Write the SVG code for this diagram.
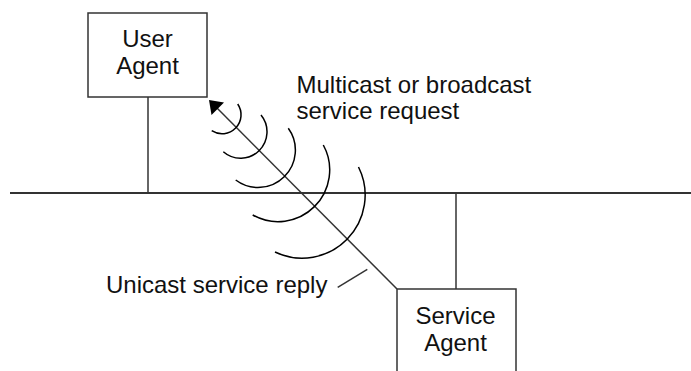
<svg xmlns="http://www.w3.org/2000/svg" width="691" height="371" viewBox="0 0 691 371">
<style>
.box{fill:#fff;stroke:#333;stroke-width:1.5}
.ln{fill:none;stroke:#333;stroke-width:1.5}
.bus{fill:none;stroke:#333;stroke-width:2}
.arc{fill:none;stroke:#000;stroke-width:1.5}
.t{font-family:"Liberation Sans",Arial,sans-serif;font-size:24px;fill:#111}
.c{text-anchor:middle}
</style>
<rect width="691" height="371" fill="#fff"/>
<g id="connectors">
<line class="bus" x1="10" y1="193" x2="691" y2="193"/>
<line class="ln" x1="148" y1="97" x2="148" y2="193"/>
<line class="ln" x1="456" y1="193" x2="456" y2="289"/>
<line class="ln" x1="397" y1="289" x2="216" y2="107"/>
<polygon points="209,100 224,102.5 211.5,115" fill="#000"/>
<path class="arc" d="M237.7,104 A19,19 0 0 1 211.7,130.7"/>
<path class="arc" d="M261,115 A26.4,26.4 0 0 1 223.3,151.7"/>
<path class="arc" d="M288.3,128.3 A37.3,37.3 0 0 1 235.7,180"/>
<path class="arc" d="M323.3,145 A51.7,51.7 0 0 1 252.7,215"/>
<path class="arc" d="M358.5,167 A63,63 0 0 1 275,252"/>
<line class="ln" x1="337.7" y1="287.3" x2="367.3" y2="269.3"/>
</g>
<g id="user-agent">
<rect class="box" x="88" y="13" width="119" height="84"/>
<text class="t c" x="147.5" y="47">User</text>
<text class="t c" x="147.5" y="73.5">Agent</text>
</g>
<g id="service-agent">
<rect class="box" x="397" y="289" width="119" height="84"/>
<text class="t c" x="455.5" y="324">Service</text>
<text class="t c" x="455.5" y="350.5">Agent</text>
</g>
<g id="labels">
<text class="t" x="296.5" y="92.5">Multicast or broadcast</text>
<text class="t" x="296.5" y="119">service request</text>
<text class="t" x="106" y="293">Unicast service reply</text>
</g>
</svg>
